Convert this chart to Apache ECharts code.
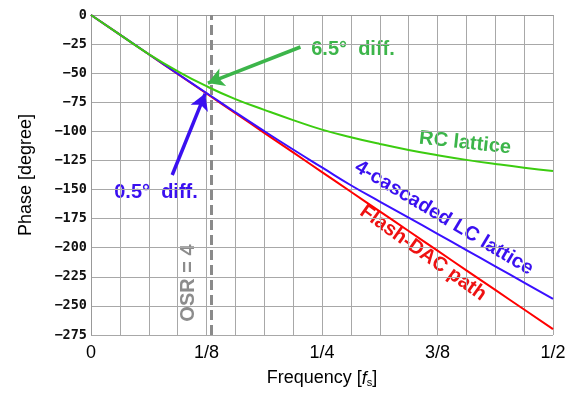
<!DOCTYPE html>
<html><head><meta charset="utf-8">
<script src="https://cdn.jsdelivr.net/npm/echarts@6/dist/echarts.min.js"></script>
<style>html,body{margin:0;padding:0;background:#fff}#c{width:575px;height:401px}</style>
</head><body><div id="c"></div>
<script>
// frequency grid, in units of fs (every 1/32)
const freqs = [0,1/32,2/32,3/32,4/32,5/32,6/32,7/32,8/32,9/32,10/32,11/32,12/32,13/32,14/32,15/32,16/32];
const flashDac = [0,-16.9,-33.75,-50.6,-67.5,-84.4,-101.25,-118.1,-135,-151.9,-168.75,-185.6,-202.5,-219.4,-236.25,-253.1,-270];
const lcLattice = [0,-16.9,-33.7,-50.5,-67.0,-83.6,-99.8,-115.6,-131.0,-146.3,-160.3,-174.2,-188.0,-202.0,-216.0,-230.0,-244.0];
const rcLattice = [0,-16.9,-33.6,-48.3,-61.2,-72.3,-81.5,-90.3,-98.5,-105.0,-110.8,-116.0,-120.5,-124.5,-128.0,-131.2,-134.0];
const xTickValues = [0,0.125,0.25,0.375,0.5];
const xTickLabels = ['0','1/8','1/4','3/8','1/2'];
const osr = 0.125;
const greenArrow = [[0.2267,-27.5],[0.1265,-58.5]];
const blueArrow = [[0.0879,-137.5],[0.1236,-67.5]];

const SANS = '"Liberation Sans Narrow","Arial Narrow","Liberation Sans",Arial,sans-serif';
const pairs = (ys) => freqs.map((f,i)=>[f,ys[i]]);
const chart = echarts.init(document.getElementById('c'));
const lineStyle = (c)=>({color:c,width:2});
chart.setOption({
  animation:false,
  grid:{left:91,right:22,top:15,bottom:66},
  xAxis:{type:'value',min:0,max:0.5,interval:1/32,
    name:'{a|Frequency [}{i|f}{s|s}{a|]}',nameLocation:'middle',nameGap:34,
    nameTextStyle:{rich:{
      a:{fontFamily:SANS,fontSize:18,color:'#000'},
      i:{fontFamily:SANS,fontSize:18,fontStyle:'italic',color:'#000'},
      s:{fontFamily:SANS,fontSize:11,color:'#000',verticalAlign:'bottom',padding:[8,0,0,0]}}},
    axisLine:{lineStyle:{color:'#999',width:1}},axisTick:{show:false},
    axisLabel:{margin:9,fontFamily:SANS,fontSize:18,color:'#000',
      formatter:(v)=>{const k=xTickValues.findIndex(t=>Math.abs(t-v)<1e-9);return k>=0?xTickLabels[k]:'';}},
    splitLine:{show:true,lineStyle:{color:'#a8a8a8',width:1}}},
  yAxis:{type:'value',min:-275,max:0,interval:25,
    name:'Phase [degree]',nameLocation:'middle',nameGap:56,
    nameTextStyle:{fontFamily:SANS,fontSize:18,color:'#000'},
    axisLine:{show:true,lineStyle:{color:'#999',width:1}},axisTick:{show:false},
    axisLabel:{margin:4,fontFamily:'DejaVu Sans Mono',fontWeight:'bold',fontSize:13.5,color:'#111',
      formatter:(v)=>String(v).replace('-','\u2212')},
    splitLine:{show:true,lineStyle:{color:'#a8a8a8',width:1}}},
  series:[
    {type:'line',data:pairs(flashDac),showSymbol:false,smooth:true,lineStyle:lineStyle('#ff0000'),z:3},
    {type:'line',data:pairs(lcLattice),showSymbol:false,smooth:true,lineStyle:lineStyle('#3a10ff'),z:4,
      markLine:{silent:true,symbol:['none','none'],label:{show:false},
        lineStyle:{color:'#8a8a8a',width:3,type:[10,5]},data:[{xAxis:osr}]}},
    {type:'line',data:pairs(rcLattice),showSymbol:false,smooth:true,lineStyle:lineStyle('#3ccc10'),z:5,
      markLine:{silent:true,symbol:['none','arrow'],symbolSize:[14,16],label:{show:false},
        data:[
          [{coord:greenArrow[0],lineStyle:{color:'#3cb54a',width:3.5,type:'solid'}},{coord:greenArrow[1]}],
          [{coord:blueArrow[0],lineStyle:{color:'#3a10f0',width:3.5,type:'solid'}},{coord:blueArrow[1]}]
        ]}}
  ],
  graphic:[
    {type:'text',x:353,y:49,style:{text:'6.5°  diff.',fill:'#3cb54a',font:'bold 20px "Liberation Sans"',align:'center',verticalAlign:'middle'}},
    {type:'text',x:156,y:192,style:{text:'0.5°  diff.',fill:'#3a10f0',font:'bold 20px "Liberation Sans"',align:'center',verticalAlign:'middle'}},
    {type:'text',x:465,y:143,rotation:-0.11,style:{text:'RC lattice',fill:'#3cb54a',font:'bold 20px "Liberation Sans"',align:'center',verticalAlign:'middle'}},
    {type:'text',x:444,y:218,rotation:-0.54,style:{text:'4-cascaded LC lattice',fill:'#3a10f0',font:'bold 20px "Liberation Sans"',align:'center',verticalAlign:'middle'}},
    {type:'text',x:423,y:253,rotation:-0.62,style:{text:'Flash-DAC path',fill:'#ee1111',font:'bold 20px "Liberation Sans"',align:'center',verticalAlign:'middle'}},
    {type:'text',x:188,y:283,rotation:Math.PI/2,style:{text:'OSR = 4',fill:'#8c8c8c',font:'bold 20px "Liberation Sans"',align:'center',verticalAlign:'middle'}}
  ]
});
</script></body></html>
